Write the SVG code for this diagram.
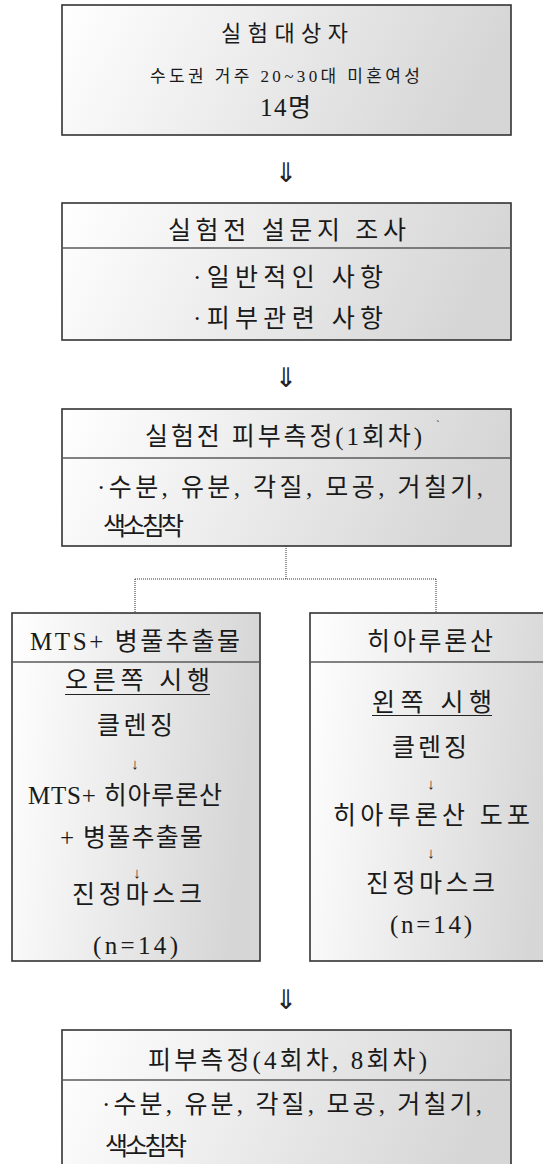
<svg xmlns="http://www.w3.org/2000/svg" width="543" height="1164" viewBox="0 0 543 1164">
<defs>
<linearGradient id="g" x1="0" y1="0" x2="1" y2="0.15">
<stop offset="0" stop-color="#ffffff"/>
<stop offset="1" stop-color="#d6d6d6"/>
</linearGradient>
<style>
.box{fill:url(#g);stroke:#333;stroke-width:1.6}
.div{stroke:#5a5a5a;stroke-width:1.6}
.t{font-family:"Liberation Serif","Noto Sans CJK KR",serif;fill:#1a1a1a}
.big{font-size:25px}
.mid{font-size:22px}
.sm{font-size:17px}
.arr{font-family:"DejaVu Sans",sans-serif;font-size:27px;fill:#222;text-anchor:middle}
.sarr{font-family:"Liberation Serif","DejaVu Sans",serif;font-size:15px;fill:#222;text-anchor:middle}
.dot{fill:none;stroke:#333;stroke-width:1;stroke-dasharray:1 1}
.ul{stroke:#222;stroke-width:1}
</style>
</defs>
<rect width="543" height="1164" fill="#fff"/>

<g id="connectors">
<text class="arr" x="286" y="182">⇓</text>
<text class="arr" x="286" y="387">⇓</text>
<text class="arr" x="286" y="1009">⇓</text>
<path class="dot" d="M286,546 V579 M135,579 H436 M135,579 V613 M436,579 V613"/>
</g>

<g id="node1">
<rect class="box" x="62" y="5" width="449" height="130"/>
<text class="t mid" x="221" y="41" textLength="127" lengthAdjust="spacing">실험대상자</text>
<text class="t sm" x="150" y="82" textLength="270" lengthAdjust="spacing">수도권 거주 20~30대 미혼여성</text>
<text class="t big" x="260" y="116" textLength="51" lengthAdjust="spacing">14명</text>
</g>

<g id="node2">
<rect class="box" x="62" y="203" width="449" height="137"/>
<line class="div" x1="62" y1="248" x2="511" y2="248"/>
<text class="t big" x="168" y="239" textLength="238" lengthAdjust="spacing">실험전 설문지 조사</text>
<text class="t big" x="193" y="286" textLength="190" lengthAdjust="spacing">·일반적인 사항</text>
<text class="t big" x="193" y="327" textLength="190" lengthAdjust="spacing">·피부관련 사항</text>
</g>

<g id="node3">
<rect class="box" x="62" y="409" width="449" height="137"/>
<line class="div" x1="62" y1="458" x2="511" y2="458"/>
<text class="t big" x="145" y="445" textLength="277" lengthAdjust="spacing">실험전 피부측정(1회차)</text>
<text class="t" x="436" y="428" font-size="11">`</text>
<text class="t big" x="97" y="496" textLength="386" lengthAdjust="spacing">·수분, 유분, 각질, 모공, 거칠기,</text>
<text class="t big" x="103" y="535" textLength="81" lengthAdjust="spacing">색소침착</text>
</g>

<g id="node4">
<rect class="box" x="12" y="613" width="248" height="348"/>
<line class="div" x1="12" y1="662" x2="260" y2="662"/>
<text class="t big" x="30" y="650" textLength="210" lengthAdjust="spacing">MTS+ 병풀추출물</text>
<text class="t big" x="65" y="689" textLength="145" lengthAdjust="spacing">오른쪽 시행</text>
<line class="ul" x1="65" y1="694.5" x2="210" y2="694.5"/>
<text class="t big" x="97" y="734" textLength="76" lengthAdjust="spacing">클렌징</text>
<text class="sarr" x="135" y="769">↓</text>
<text class="t big" x="28" y="804" textLength="194" lengthAdjust="spacing">MTS+ 히아루론산</text>
<text class="t big" x="60" y="846" textLength="143" lengthAdjust="spacing">+ 병풀추출물</text>
<text class="sarr" x="137" y="878">↓</text>
<text class="t big" x="72" y="903" textLength="130" lengthAdjust="spacing">진정마스크</text>
<text class="t big" x="93" y="954" textLength="85" lengthAdjust="spacing">(n=14)</text>
</g>

<g id="node5">
<rect class="box" x="310" y="613" width="252" height="348"/>
<line class="div" x1="310" y1="662" x2="562" y2="662"/>
<text class="t big" x="367" y="650" textLength="126" lengthAdjust="spacing">히아루론산</text>
<text class="t big" x="372" y="711" textLength="120" lengthAdjust="spacing">왼쪽 시행</text>
<line class="ul" x1="372" y1="715.5" x2="492" y2="715.5"/>
<text class="t big" x="392" y="756" textLength="75" lengthAdjust="spacing">클렌징</text>
<text class="sarr" x="431" y="789">↓</text>
<text class="t big" x="333" y="824" textLength="197" lengthAdjust="spacing">히아루론산 도포</text>
<text class="sarr" x="431" y="858">↓</text>
<text class="t big" x="366" y="892" textLength="129" lengthAdjust="spacing">진정마스크</text>
<text class="t big" x="390" y="933" textLength="82" lengthAdjust="spacing">(n=14)</text>
</g>

<g id="node6">
<rect class="box" x="62" y="1030" width="449" height="150"/>
<line class="div" x1="62" y1="1080" x2="511" y2="1080"/>
<text class="t big" x="148" y="1069" textLength="279" lengthAdjust="spacing">피부측정(4회차, 8회차)</text>
<text class="t big" x="102" y="1113" textLength="380" lengthAdjust="spacing">·수분, 유분, 각질, 모공, 거칠기,</text>
<text class="t big" x="105" y="1155" textLength="82" lengthAdjust="spacing">색소침착</text>
</g>
</svg>
